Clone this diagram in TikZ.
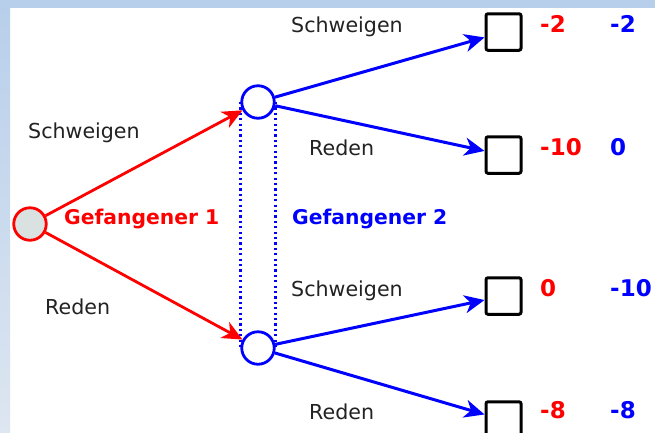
\documentclass[tikz,border=0pt]{standalone}
\usepackage{fontspec}
\setmainfont{DejaVu Sans}
\usetikzlibrary{arrows.meta}
\definecolor{bgtop}{HTML}{B8CFEB}
\definecolor{bgbot}{HTML}{DDE6F1}
\definecolor{rootfill}{HTML}{D9E2E1}
\definecolor{txt}{HTML}{222222}
\begin{document}
\begin{tikzpicture}[x=1pt,y=-1pt,
  lbl/.style={font=\fontsize{20.6}{24}\selectfont, text=txt, anchor=base west, inner sep=0pt},
  gf/.style={font=\fontsize{20.3}{24}\selectfont\bfseries, anchor=base west, inner sep=0pt},
  pay/.style={font=\fontsize{23}{26}\selectfont\bfseries, anchor=base west, inner sep=0pt},
  rootc/.style={circle, draw=red, line width=2.8pt, fill=rootfill, minimum size=32.5pt, inner sep=0pt},
  dec/.style={circle, draw=blue, line width=2.8pt, fill=white, minimum size=32.5pt, inner sep=0pt},
  leaf/.style={draw=black, line width=3pt, fill=white, minimum width=35pt, minimum height=36.5pt, rounded corners=2pt, inner sep=0pt},
  rarr/.style={draw=red, line width=2.8pt, -{Stealth[length=20pt,width=18pt,inset=6pt]}},
  barr/.style={draw=blue, line width=3pt, -{Stealth[length=20pt,width=18pt,inset=6pt]}},
  info/.style={draw=blue, line width=2.6pt, dash pattern=on 2.2pt off 3.2pt}
]
\useasboundingbox (0,0) rectangle (655,432);
\fill[white] (0,0) rectangle (655,432);
\fill[bgtop] (0,0) rectangle (655,8);
\shade[top color=bgtop, bottom color=bgbot] (0,8) rectangle (10,432);

% nodes
\node[rootc] (r) at (30,224) {};
\node[dec] (u) at (258,102) {};
\node[dec] (l) at (258,348) {};
\node[leaf] (t1) at (503.5,32) {};
\node[leaf] (t2) at (503.5,155) {};
\node[leaf] (t3) at (503.5,296) {};
\node[leaf] (t4) at (503.5,420) {};

% information set
\draw[info] (u.west) -- (l.west);
\draw[info] (u.east) -- (l.east);

% moves
\draw[rarr] (r) -- (u);
\draw[rarr] (r) -- (l);
\draw[barr] (u) -- (t1);
\draw[barr] (u) -- (t2);
\draw[barr] (l) -- (t3);
\draw[barr] (l) -- (t4);

% labels
\node[lbl] (s0) at (28,138) {Schweigen};
\node[lbl] (d0) at (45,314) {Reden};
\node[gf, text=red] (g1) at (64,224) {Gefangener 1};
\node[gf, text=blue] (g2) at (292,224) {Gefangener 2};
\node[lbl] (s1) at (291,32) {Schweigen};
\node[lbl] (d1) at (309,155) {Reden};
\node[lbl] (s2) at (291,296) {Schweigen};
\node[lbl] (d2) at (309,419) {Reden};

% payoffs
\node[pay, text=red] (p1a) at (540,32) {-2};
\node[pay, text=blue] (p1b) at (610,32) {-2};
\node[pay, text=red] (p2a) at (540,155) {-10};
\node[pay, text=blue] (p2b) at (610,155) {0};
\node[pay, text=red] (p3a) at (540,296) {0};
\node[pay, text=blue] (p3b) at (610,296) {-10};
\node[pay, text=red] (p4a) at (540,418) {-8};
\node[pay, text=blue] (p4b) at (610,418) {-8};
\end{tikzpicture}
\end{document}
